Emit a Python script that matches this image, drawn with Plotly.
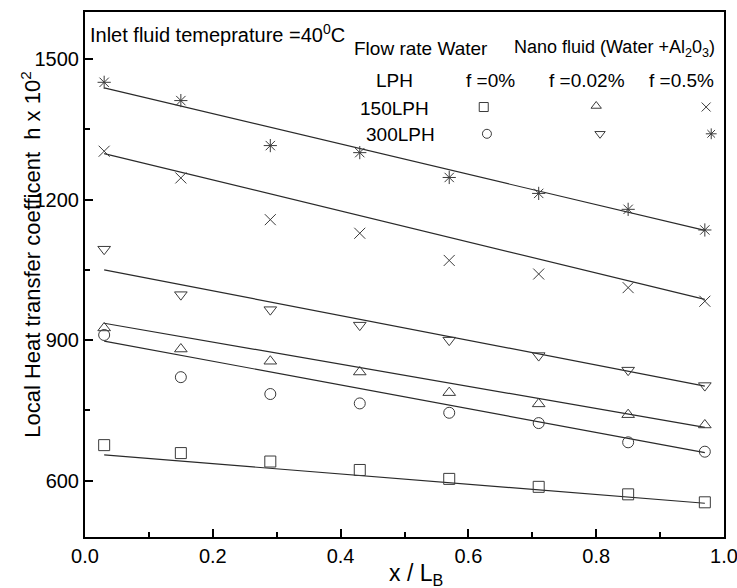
import plotly.graph_objects as go

x_pos = [0.03, 0.15, 0.29, 0.43, 0.57, 0.71, 0.85, 0.97]

h_150_0 = [676, 659, 641, 623, 604, 587, 571, 554]
h_300_0 = [911, 821, 785, 765, 745, 723, 682, 662]
h_150_002 = [926, 881, 855, 832, 788, 764, 741, 719]
h_300_002 = [1094, 997, 965, 932, 900, 867, 836, 803]
h_150_05 = [1303, 1246, 1157, 1128, 1070, 1041, 1012, 983]
h_300_05 = [1450, 1411, 1315, 1300, 1247, 1213, 1179, 1135]

# linear trend lines: value at first and last x
fit_150_0 = [655, 552]
fit_300_0 = [898, 660]
fit_150_002 = [936, 714]
fit_300_002 = [1050, 802]
fit_150_05 = [1298, 987]
fit_300_05 = [1438, 1134]

series = [
    ("150LPH, f=0%", h_150_0, fit_150_0, "square-open"),
    ("300LPH, f=0%", h_300_0, fit_300_0, "circle-open"),
    ("150LPH, f=0.02%", h_150_002, fit_150_002, "triangle-up-open"),
    ("300LPH, f=0.02%", h_300_002, fit_300_002, "triangle-down-open"),
    ("150LPH, f=0.5%", h_150_05, fit_150_05, "x-thin-open"),
    ("300LPH, f=0.5%", h_300_05, fit_300_05, "asterisk-open"),
]

MK = "#3a3a3a"
LN = "#2a2a2a"
FONT = "Liberation Sans, Arial, sans-serif"

fig = go.Figure()
for name, ys, fit, sym in series:
    fig.add_trace(go.Scatter(
        x=[x_pos[0], x_pos[-1]], y=fit, mode="lines",
        line=dict(color=LN, width=1.2), showlegend=False, hoverinfo="skip"))
    fig.add_trace(go.Scatter(
        x=x_pos, y=ys, mode="markers", name=name,
        marker=dict(symbol=sym, size=11, color=MK, line=dict(color=MK, width=1)),
        showlegend=False, cliponaxis=False))

# legend key symbols (on overlay axes in paper-like units)
key_syms = ["square-open", "triangle-up-open", "x-thin-open",
            "circle-open", "triangle-down-open", "asterisk-open"]
key_x = [0.624, 0.800, 0.972, 0.629, 0.806, 0.980]
key_y = [0.819, 0.821, 0.819, 0.768, 0.768, 0.768]
fig.add_trace(go.Scatter(
    x=key_x, y=key_y, xaxis="x2", yaxis="y2", mode="markers",
    marker=dict(symbol=key_syms, size=9, color=MK, line=dict(color=MK, width=1)),
    showlegend=False, hoverinfo="skip", cliponaxis=False))

def f(sz):
    return dict(family=FONT, size=sz, color="black")

annotations = [
    dict(text="Inlet fluid temeprature =40<sup>0</sup>C", x=0.004, y=0.960, xanchor="left", font=f(20)),
    dict(text="Flow rate Water", x=0.418, y=0.931, xanchor="left", font=f(19)),
    dict(text="Nano fluid (Water +Al<sub>2</sub>0<sub>3</sub>)", x=0.668, y=0.931, xanchor="left", font=f(18)),
    dict(text="LPH", x=0.484, y=0.870, xanchor="center", font=f(19)),
    dict(text="f =0%", x=0.635, y=0.870, xanchor="center", font=f(19)),
    dict(text="f =0.02%", x=0.786, y=0.870, xanchor="center", font=f(19)),
    dict(text="f =0.5%", x=0.933, y=0.870, xanchor="center", font=f(19)),
    dict(text="150LPH", x=0.485, y=0.817, xanchor="center", font=f(19)),
    dict(text="300LPH", x=0.493, y=0.766, xanchor="center", font=f(19)),
    dict(text="x / L<sub>B</sub>", x=0.518, y=-0.072, xanchor="center", font=f(23)),
    dict(text="Local Heat transfer coefficent  h x 10<sup>2</sup>", x=-0.085, y=0.537,
         xanchor="center", textangle=-90, font=f(22)),
]
for a in annotations:
    a.update(xref="paper", yref="paper", yanchor="middle", showarrow=False)

axis_common = dict(showgrid=False, zeroline=False, showline=True, linecolor="black",
                   linewidth=2, mirror=True, ticks="inside", tickcolor="black",
                   tickwidth=2, ticklen=8, automargin=False,
                   ticklabeloverflow="allow", tickfont=f(20))

fig.update_layout(
    width=737, height=588,
    margin=dict(l=85, r=13, t=12, b=51),
    paper_bgcolor="white", plot_bgcolor="white",
    xaxis=dict(range=[0, 1], tickvals=[0, 0.2, 0.4, 0.6, 0.8, 1.0], tickformat=".1f",
               minor=dict(tickvals=[0.1, 0.3, 0.5, 0.7, 0.9], ticks="inside", ticklen=5,
                          tickwidth=2, tickcolor="black"),
               **axis_common),
    yaxis=dict(range=[480, 1600], tickvals=[600, 900, 1200, 1500],
               minor=dict(tickvals=[750, 1050, 1350], ticks="inside", ticklen=5,
                          tickwidth=2, tickcolor="black"),
               **axis_common),
    xaxis2=dict(overlaying="x", range=[0, 1], visible=False),
    yaxis2=dict(overlaying="y", range=[0, 1], visible=False),
    annotations=annotations,
)

fig.write_html("out.html")
